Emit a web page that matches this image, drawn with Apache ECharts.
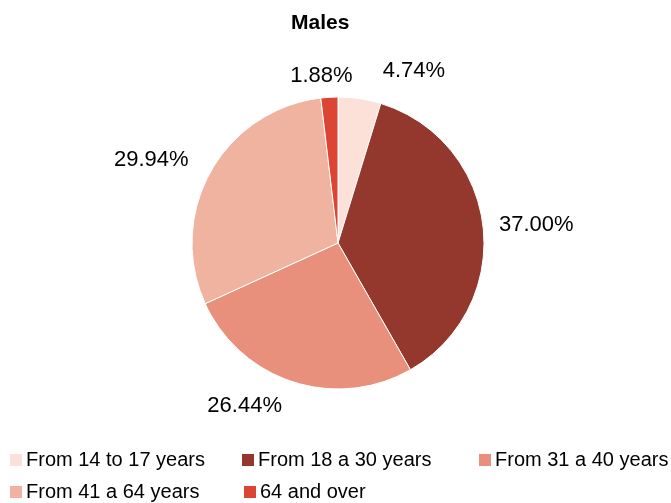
<!DOCTYPE html>
<html>
<head>
    <meta charset="utf-8">
    <title>Males</title>
    <script src="https://cdn.jsdelivr.net/npm/echarts@6/dist/echarts.min.js"></script>
    <style>
        html, body { margin: 0; padding: 0; background: #fff; }
        #chartContainer { width: 671px; height: 503px; }
    </style>
</head>
<body>
    <div id="chartContainer"></div>
    <script>
        // age groups and shares (%)
        const categories = ['From 14 to 17 years', 'From 18 a 30 years', 'From 31 a 40 years', 'From 41 a 64 years', '64 and over'];
        const shares = [4.74, 37.00, 26.44, 29.94, 1.88];
        const colors = ['#FCE1D9', '#94372D', '#E8907B', '#F0B39F', '#DC4433'];

        const chart = echarts.init(document.getElementById('chartContainer'));

        // legend positions: two rows, three columns
        const legendPos = [[10, 450], [242, 450], [479, 450], [10, 482], [244, 482]];
        const legends = categories.map((name, i) => ({
            data: [name],
            left: legendPos[i][0],
            top: legendPos[i][1],
            padding: 0,
            itemWidth: 12,
            itemHeight: 12,
            itemGap: 6,
            icon: 'rect',
            itemStyle: { borderWidth: 0 },
            textStyle: { fontFamily: 'Liberation Sans', fontSize: 20, color: '#000', padding: [0, 0, 0, -1] },
            selectedMode: false
        }));

        // small nudges so the labels sit where the original ones do
        const labelNudge = [[16, -14], [-3, 0], [-2, 11], [-5, -5], [29, -7]];

        const option = {
            color: colors,
            title: {
                text: 'Males',
                left: 286,
                top: 8,
                textStyle: { fontFamily: 'Liberation Sans', fontSize: 21, fontWeight: 'bold', color: '#000' }
            },
            legend: legends,
            series: [{
                type: 'pie',
                center: [338, 243],
                radius: 146,
                startAngle: 90,
                clockwise: true,
                animation: false,
                data: categories.map((name, i) => ({
                    name: name,
                    value: shares[i],
                    label: { offset: labelNudge[i] }
                })),
                itemStyle: { borderColor: '#fff', borderWidth: 1 },
                label: {
                    show: true,
                    position: 'outside',
                    formatter: p => shares[p.dataIndex].toFixed(2) + '%',
                    fontFamily: 'Liberation Sans',
                    fontSize: 22,
                    color: '#000'
                },
                labelLine: { show: false, length: 14, length2: 0 },
                emphasis: { disabled: true }
            }]
        };

        chart.setOption(option);
    </script>
</body>
</html>
